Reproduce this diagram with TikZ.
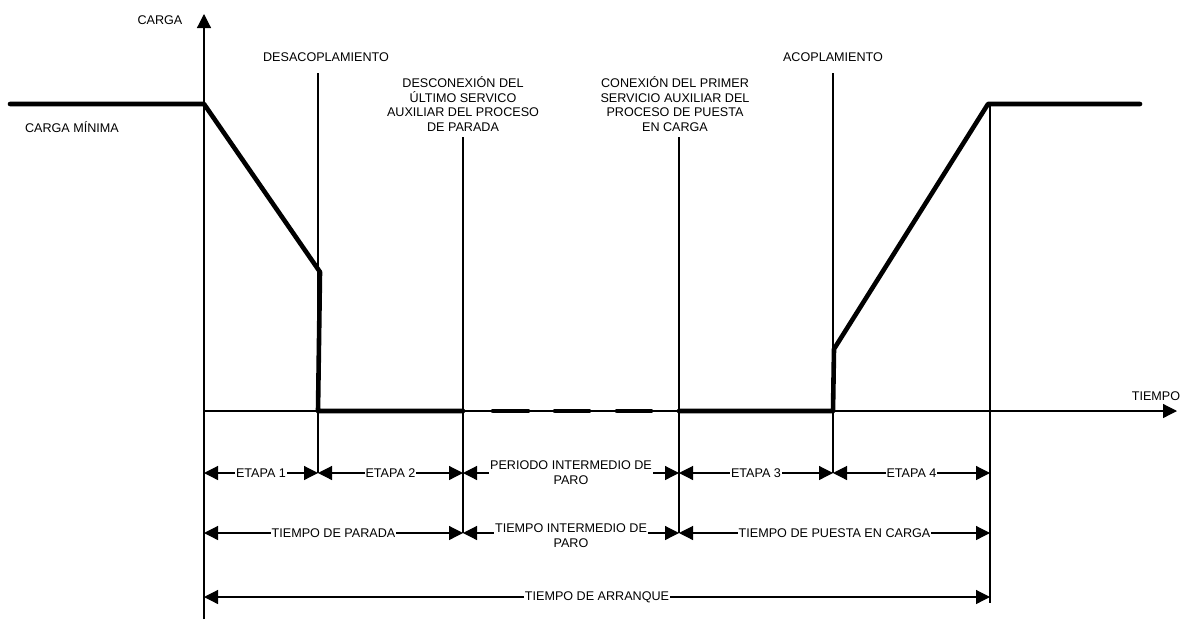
\documentclass[tikz,border=0pt]{standalone}
\usepackage{fontspec}
\setmainfont{Liberation Sans}
\usetikzlibrary{arrows.meta}
\begin{document}
\begin{tikzpicture}[x=1pt,y=-1pt,
  >={Triangle[length=14pt,width=14pt]},
  thinline/.style={line width=1.2pt},
  load/.style={line width=4.6pt, line cap=round, line join=round},
  dim/.style={line width=1.2pt, <->},
  lbl/.style={font=\fontsize{12.6}{14.7}\selectfont, inner sep=1pt, align=center},
  dl/.style={lbl, fill=white}]
\useasboundingbox (0,0) rectangle (1185,619);
% key coordinates
\coordinate (t0) at (204,411);
\coordinate (t1) at (318,411);
\coordinate (t2) at (463,411);
\coordinate (t3) at (679,411);
\coordinate (t4) at (833,411);
\coordinate (t5) at (990,411);
\coordinate (ytop) at (204,14);
\coordinate (ybot) at (204,619);
\coordinate (xend) at (1177,411);
\coordinate (r1) at (0,473);
\coordinate (r2) at (0,533);
\coordinate (r3) at (0,597);
% axes
\draw[thinline, ->] (ybot) -- (ytop);
\draw[thinline, ->] (t0) -- (xend);
% vertical markers
\coordinate (m1top) at (318,73);
\coordinate (m2top) at (463,137);
\coordinate (m3top) at (679,137);
\coordinate (m4top) at (833,73);
\coordinate (m5top) at (990,104);
\coordinate (m5bot) at (990,603);
\draw[thinline] (m1top) -- (t1 |- r1);
\draw[thinline] (m2top) -- (t2 |- r2);
\draw[thinline] (m3top) -- (t3 |- r2);
\draw[thinline] (m4top) -- (t4 |- r1);
\draw[thinline] (m5top) -- (m5bot);
% load curve
\coordinate (l0) at (10,104);
\coordinate (l1) at (204,104);
\coordinate (l2) at (320,272);
\coordinate (l3) at (318,411);
\coordinate (l4) at (834,349);
\coordinate (l5) at (988,104);
\coordinate (l6) at (1140,104);
\draw[load] (l0) -- (l1) -- (l2) -- (l3) -- (t2);
\draw[load] (493,411) -- (528,411);
\draw[load] (555,411) -- (589,411);
\draw[load] (617,411) -- (651,411);
\draw[load] (t3) -- (t4) -- (l4) -- (l5) -- (l6);
% labels
\node[lbl] (carga) at (160,20) {CARGA};
\node[lbl] (cmin) at (72,127) {CARGA MÍNIMA};
\node[lbl] (tiempo) at (1156,396) {TIEMPO};
\node[lbl] (desac) at (326,57) {DESACOPLAMIENTO};
\node[lbl] (descon) at (463,104) {DESCONEXIÓN DEL\\ÚLTIMO SERVICO\\AUXILIAR DEL PROCESO\\DE PARADA};
\node[lbl] (conex) at (675,104) {CONEXIÓN DEL PRIMER\\SERVICIO AUXILIAR DEL\\PROCESO DE PUESTA\\EN CARGA};
\node[lbl] (acop) at (833,57) {ACOPLAMIENTO};
% dimension row 1
\draw[dim] (t0 |- r1) -- node[dl] (e1) {ETAPA 1} (t1 |- r1);
\draw[dim] (t1 |- r1) -- node[dl] (e2) {ETAPA 2} (t2 |- r1);
\draw[dim] (t2 |- r1) -- node[dl] (pi) {PERIODO INTERMEDIO DE\\PARO} (t3 |- r1);
\draw[dim] (t3 |- r1) -- node[dl] (e3) {ETAPA 3} (t4 |- r1);
\draw[dim] (t4 |- r1) -- node[dl] (e4) {ETAPA 4} (t5 |- r1);
% dimension row 2
\draw[dim] (t0 |- r2) -- node[dl] (tp) {TIEMPO DE PARADA} (t2 |- r2);
\draw[dim] (t2 |- r2) -- node[dl, yshift=-3pt] (ti) {TIEMPO INTERMEDIO DE\\PARO} (t3 |- r2);
\draw[dim] (t3 |- r2) -- node[dl] (tc) {TIEMPO DE PUESTA EN CARGA} (t5 |- r2);
% dimension row 3
\draw[dim] (t0 |- r3) -- node[dl] (ta) {TIEMPO DE ARRANQUE} (t5 |- r3);
\end{tikzpicture}
\end{document}
